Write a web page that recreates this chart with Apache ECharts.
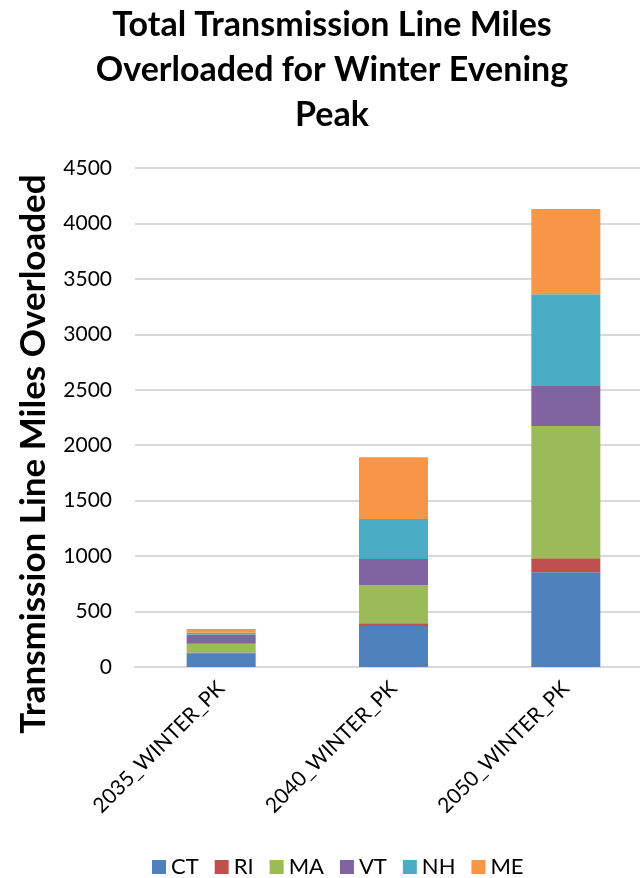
<!DOCTYPE html>
<html>
<head>
<meta charset="utf-8">
<script src="https://cdn.jsdelivr.net/npm/echarts@6/dist/echarts.min.js"></script>
<style>html,body{margin:0;padding:0;background:#fff;}#c{width:640px;height:878px;}</style>
</head>
<body>
<div id="c"></div>
<script>
var categories = ['2035_WINTER_PK', '2040_WINTER_PK', '2050_WINTER_PK'];
var seriesNames = ['CT', 'RI', 'MA', 'VT', 'NH', 'ME'];
var CT = [120, 370, 854];
var RI = [11, 24, 126];
var MA = [78, 343, 1194];
var VT = [84, 237, 367];
var NH = [15, 361, 821];
var ME = [34, 556, 769];
var colors = ['#4f81bd', '#c0504d', '#9bbb59', '#8064a2', '#4bacc6', '#f79646'];
var yTicks = [0, 500, 1000, 1500, 2000, 2500, 3000, 3500, 4000, 4500];

var values = [CT, RI, MA, VT, NH, ME];
var FONT = 'Lato';
var chart = echarts.init(document.getElementById('c'), null, {renderer: 'canvas'});
chart.setOption({
  animation: false,
  backgroundColor: '#ffffff',
  color: colors,
  title: {
    text: 'Total Transmission Line Miles\nOverloaded for Winter Evening\nPeak',
    left: 327, top: -2, textAlign: 'center',
    textStyle: {fontFamily: FONT, fontWeight: 'bold', fontSize: 34, lineHeight: 45, color: '#000'}
  },
  legend: {
    top: 856, left: 152, padding: 0,
    itemWidth: 14, itemHeight: 14, itemGap: 16,
    icon: 'rect',
    textStyle: {fontFamily: FONT, fontSize: 22, color: '#000'},
    data: seriesNames
  },
  grid: {left: 135, top: 168, width: 517, bottom: 211, containLabel: false, outerBoundsMode: 'none'},
  xAxis: {
    type: 'category', data: categories,
    axisLine: {lineStyle: {color: '#d9d9d9', width: 2}},
    axisTick: {show: false},
    axisLabel: {rotate: 45, fontFamily: FONT, fontSize: 21, color: '#000', margin: 18, interval: 0}
  },
  yAxis: {
    type: 'value', min: yTicks[0], max: yTicks[yTicks.length - 1], interval: 500,
    axisLine: {show: false}, axisTick: {show: false},
    splitLine: {lineStyle: {color: '#d9d9d9', width: 2}},
    axisLabel: {fontFamily: FONT, fontSize: 21, color: '#000', margin: 23,
      formatter: function (v) { return String(v); }}
  },
  graphic: [{
    type: 'text', x: 34, y: 454, rotation: Math.PI / 2,
    style: {text: 'Transmission Line Miles Overloaded', fontFamily: FONT, fontWeight: 'bold', fontSize: 35,
      fill: '#000', textAlign: 'center', textVerticalAlign: 'middle'}
  }],
  series: seriesNames.map(function (n, i) {
    return {name: n, type: 'bar', stack: 'total', barWidth: 69, data: values[i],
      itemStyle: {color: colors[i]}};
  })
});
</script>
</body>
</html>
